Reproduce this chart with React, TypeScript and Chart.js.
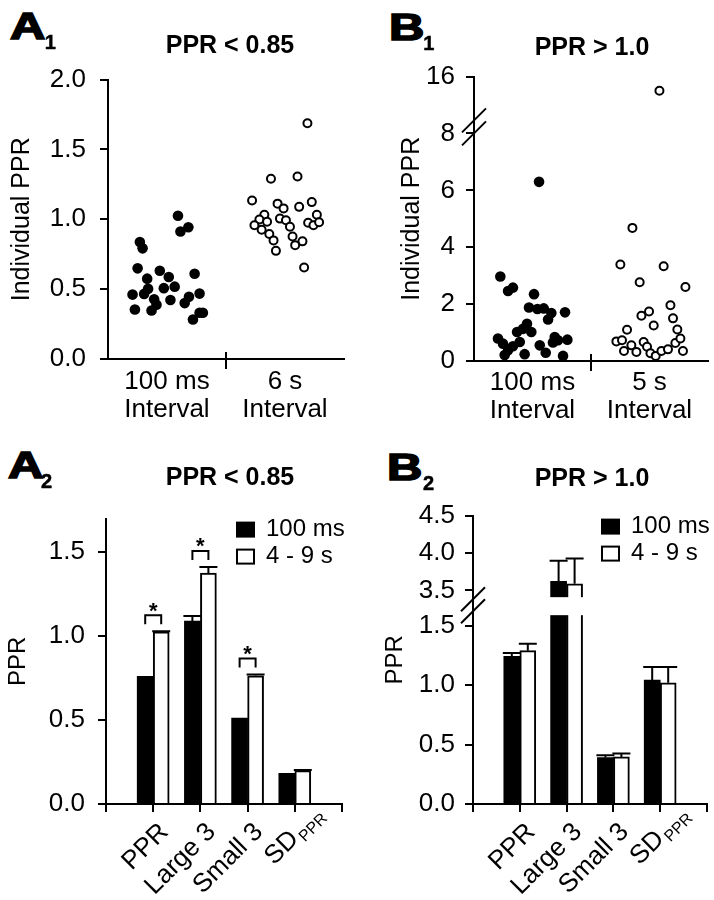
import React, { useEffect, useRef } from 'react';
import { Chart, registerables } from 'chart.js';

Chart.register(...registerables);

const FONT = "'Liberation Sans', Arial, Helvetica, sans-serif";

// ---------- Panel A1 (PPR < 0.85, individual PPR) ----------
const a1FastX = [0.593, 0.614, 0.681, 0.270, 0.293, 0.251, 0.439, 0.515, 0.332, 0.734, 0.340, 0.473, 0.565, 0.306, 0.208, 0.391, 0.529, 0.686, 0.776, 0.650, 0.411, 0.228, 0.369, 0.720, 0.776, 0.804];
const a1FastY = [1.025, 0.913, 0.943, 0.838, 0.792, 0.649, 0.632, 0.587, 0.575, 0.61, 0.502, 0.507, 0.518, 0.466, 0.461, 0.427, 0.422, 0.445, 0.468, 0.40, 0.388, 0.354, 0.347, 0.283, 0.331, 0.331];
const a1SlowX = [1.381, 1.606, 1.221, 1.437, 1.488, 1.620, 1.727, 1.770, 1.325, 1.283, 1.348, 1.457, 1.508, 1.542, 1.241, 1.302, 1.367, 1.403, 1.564, 1.648, 1.586, 1.423, 1.662, 1.696, 1.741, 1.789, 1.690];
const a1SlowY = [1.29, 1.306, 1.135, 1.112, 1.078, 1.089, 1.123, 1.032, 1.032, 0.998, 0.982, 1.005, 0.993, 0.947, 0.957, 0.925, 0.895, 0.849, 0.877, 0.842, 0.815, 0.774, 0.655, 0.975, 0.957, 0.979, 1.687];
const a1Categories = [['100 ms', 'Interval'], ['6 s', 'Interval']];
const a1YTicks = [0, 0.5, 1.0, 1.5, 2.0];

// ---------- Panel B1 (PPR > 1.0, individual PPR) ----------
const b1FastX = [0.556, 0.225, 0.291, 0.333, 0.513, 0.470, 0.542, 0.596, 0.661, 0.633, 0.778, 0.453, 0.419, 0.368, 0.49, 0.205, 0.248, 0.391, 0.333, 0.690, 0.718, 0.675, 0.798, 0.562, 0.291, 0.262, 0.433, 0.613, 0.761];
const b1FastY = [6.30, 2.97, 2.46, 2.58, 2.35, 1.88, 1.83, 1.85, 1.69, 1.46, 1.71, 1.31, 1.13, 1.02, 1.02, 0.79, 0.61, 0.67, 0.52, 0.84, 0.73, 0.65, 0.75, 0.55, 0.38, 0.21, 0.24, 0.29, 0.18];
const b1SlowX = [1.585, 1.354, 1.251, 1.621, 1.416, 1.807, 1.431, 1.496, 1.679, 1.701, 1.536, 1.308, 1.738, 1.217, 1.265, 1.345, 1.282, 1.388, 1.450, 1.479, 1.508, 1.553, 1.602, 1.658, 1.721, 1.764, 1.786];
const b1SlowY = [14.0, 4.68, 3.39, 3.33, 2.77, 2.60, 1.59, 1.74, 1.96, 1.50, 1.25, 1.10, 1.11, 0.69, 0.73, 0.55, 0.35, 0.32, 0.67, 0.50, 0.27, 0.18, 0.35, 0.41, 0.63, 0.79, 0.35];
const b1Categories = [['100 ms', 'Interval'], ['5 s', 'Interval']];
const b1YTicks = [0, 2, 4, 6, 8, 16];

// ---------- Bar panels ----------
const barCategories = ['PPR', 'Large 3', 'Small 3', 'SD'];
const barCategorySubs = ['', '', '', 'PPR'];
const seriesLabels = ['100 ms', '4 - 9 s'];

// A2 (PPR < 0.85)
const a2Fast = [0.76, 1.09, 0.512, 0.183];
const a2FastErr = [0, 0.03, 0, 0];
const a2Slow = [1.025, 1.375, 0.764, 0.199];
const a2SlowErr = [0.004, 0.037, 0.008, 0.004];
const a2Significant = [true, true, true, false];
const a2YTicks = [0, 0.5, 1.0, 1.5];
const a2YMax = 1.7;

// B2 (PPR > 1.0)
const b2Fast = [1.244, 3.62, 0.392, 1.044];
const b2FastErr = [0.028, 0.277, 0.019, 0.111];
const b2Slow = [1.292, 3.587, 0.397, 1.022];
const b2SlowErr = [0.058, 0.34, 0.028, 0.133];
const b2Significant = [false, false, false, false];
const b2YTicks = [0, 0.5, 1.0, 1.5, 3.5, 4.0, 4.5];

// broken-axis transforms
const identity = (v: number) => v;
const b1Map = (v: number) => (v <= 8 ? v : 8 + (v - 8) / 4);
const b2Map = (v: number) => (v <= 1.5 ? v : v >= 3.5 ? 1.8 + (v - 3.5) * 0.63 : 1.5 + (v - 1.5) * 0.15);

function drawBreak(ctx: CanvasRenderingContext2D, x: number, yc: number, gap: number) {
  ctx.save();
  ctx.strokeStyle = '#000';
  ctx.lineWidth = 2;
  for (const s of [-gap / 2, gap / 2]) {
    ctx.beginPath();
    ctx.moveTo(x - 12, yc + s + 12);
    ctx.lineTo(x + 12, yc + s - 12);
    ctx.stroke();
  }
  ctx.restore();
}

type ScatterSpec = {
  fastX: number[]; fastY: number[]; slowX: number[]; slowY: number[];
  map: (v: number) => number; yTicks: number[]; fmt: (v: number) => string;
  cats: string[][]; yTitle: string; titlePad: number; yWidth: number; xHeight: number;
  padTop: number; padRight: number; tickPad: number; labelPad: number;
  brk?: { at: number; offset: number; gap: number };
};

function scatterConfig(s: ScatterSpec): any {
  const yMax = s.map(s.yTicks[s.yTicks.length - 1]);
  const extras = {
    id: 'scatterExtras',
    afterDraw(chart: any) {
      const { ctx, chartArea: ca } = chart;
      const xs = chart.scales.x;
      const ys = chart.scales.y;
      ctx.save();
      ctx.strokeStyle = '#000';
      ctx.lineWidth = 2;
      const px = Math.round(xs.getPixelForValue(1));
      ctx.beginPath();
      ctx.moveTo(px, ca.bottom - 7);
      ctx.lineTo(px, ca.bottom + 10);
      ctx.stroke();
      ctx.restore();
      if (s.brk) drawBreak(ctx, ca.left, ys.getPixelForValue(s.map(s.brk.at)) + s.brk.offset, s.brk.gap);
    },
  };
  return {
    type: 'scatter',
    data: {
      datasets: [
        { label: '100 ms', data: s.fastX.map((x, i) => ({ x, y: s.map(s.fastY[i]) })), pointRadius: 5.3, pointBackgroundColor: '#000', pointBorderColor: '#000', pointBorderWidth: 0 },
        { label: 'long', data: s.slowX.map((x, i) => ({ x, y: s.map(s.slowY[i]) })), pointRadius: 4, pointBackgroundColor: '#fff', pointBorderColor: '#000', pointBorderWidth: 2 },
      ],
    },
    options: {
      responsive: false,
      animation: false,
      events: [],
      clip: false,
      layout: { padding: { top: s.padTop, right: s.padRight, left: 0, bottom: 0 } },
      plugins: { legend: { display: false }, tooltip: { enabled: false } },
      scales: {
        x: {
          type: 'linear', min: 0, max: 2,
          afterBuildTicks: (sc: any) => { sc.ticks = [0.5, 1.5].map((v) => ({ value: v })); },
          ticks: { callback: (_v: any, i: number) => s.cats[i], autoSkip: false, maxRotation: 0, minRotation: 0, padding: s.labelPad, color: '#000', font: { family: FONT, size: 26, lineHeight: 1.05 } },
          grid: { drawOnChartArea: false, drawTicks: false },
          border: { display: true, color: '#000', width: 2 },
          afterFit: (sc: any) => { sc.height = s.xHeight; },
        },
        y: {
          type: 'linear', min: 0, max: yMax,
          afterBuildTicks: (sc: any) => { sc.ticks = s.yTicks.map((v) => ({ value: s.map(v) })); },
          ticks: { callback: (_v: any, i: number) => s.fmt(s.yTicks[i]), autoSkip: false, padding: s.tickPad, color: '#000', font: { family: FONT, size: 26 } },
          grid: { drawOnChartArea: false, drawTicks: true, tickLength: 8, color: '#000', lineWidth: 2 },
          border: { display: true, color: '#000', width: 2 },
          title: { display: true, text: s.yTitle, color: '#000', font: { family: FONT, size: 25, lineHeight: 1 }, padding: { top: s.titlePad, bottom: 0 } },
          afterFit: (sc: any) => { sc.width = s.yWidth; },
        },
      },
    },
    plugins: [extras],
  };
}

type BarSpec = {
  fast: number[]; fastErr: number[]; slow: number[]; slowErr: number[]; sig: boolean[];
  map: (v: number) => number; yTicks: number[]; yMax: number; yTitle: string; titlePad: number;
  yWidth: number; xHeight: number; padTop: number; padRight: number; tickPad: number;
  brk?: [number, number];
};

function barConfig(s: BarSpec): any {
  const labels = ['', ...barCategories, ''];
  const pad = (arr: number[]) => [null, ...arr.map(s.map), null];
  const series = [
    { vals: s.fast, errs: s.fastErr },
    { vals: s.slow, errs: s.slowErr },
  ];
  const breakCenter = (ys: any) => s.brk ? (ys.getPixelForValue(s.map(s.brk[0])) + ys.getPixelForValue(s.map(s.brk[1]))) / 2 - 3 : 0;
  const extras = {
    id: 'barExtras',
    afterDatasetsDraw(chart: any) {
      const { ctx, chartArea: ca } = chart;
      const ys = chart.scales.y;
      ctx.save();
      if (s.brk) {
        const yc = breakCenter(ys);
        ctx.fillStyle = '#fff';
        ctx.fillRect(ca.left + 2, yc - 8, ca.right - ca.left - 2, 18);
      }
      ctx.strokeStyle = '#000';
      ctx.lineWidth = 2;
      series.forEach((ser, di) => {
        const meta = chart.getDatasetMeta(di);
        ser.vals.forEach((v, i) => {
          const e = ser.errs[i];
          if (!e) return;
          const bar = meta.data[i + 1];
          const yTop = ys.getPixelForValue(s.map(v + e));
          ctx.beginPath();
          ctx.moveTo(bar.x, bar.y);
          ctx.lineTo(bar.x, yTop);
          ctx.moveTo(bar.x - 9, yTop);
          ctx.lineTo(bar.x + 9, yTop);
          ctx.stroke();
        });
      });
      // significance brackets
      const m0 = chart.getDatasetMeta(0);
      const m1 = chart.getDatasetMeta(1);
      s.sig.forEach((sg, i) => {
        if (!sg) return;
        const xa = m0.data[i + 1].x;
        const xb = m1.data[i + 1].x;
        const topVal = Math.max(s.fast[i] + s.fastErr[i], s.slow[i] + s.slowErr[i]);
        const legs = ys.getPixelForValue(s.map(topVal)) - 7;
        const top = legs - 9;
        ctx.beginPath();
        ctx.moveTo(xa, legs);
        ctx.lineTo(xa, top);
        ctx.lineTo(xb, top);
        ctx.lineTo(xb, legs);
        ctx.stroke();
        ctx.fillStyle = '#000';
        ctx.font = `bold 22px ${FONT}`;
        ctx.textAlign = 'center';
        ctx.textBaseline = 'middle';
        ctx.fillText('*', (xa + xb) / 2, top - 8.5 + 0.22 * 22);
      });
      ctx.restore();
    },
    afterDraw(chart: any) {
      const { ctx, chartArea: ca } = chart;
      const xs = chart.scales.x;
      const ys = chart.scales.y;
      ctx.save();
      // legend
      const lx = ca.right - 106;
      const tx = ca.right - 76;
      chart.data.datasets.forEach((ds: any, k: number) => {
        const cy = ca.top + 11 + k * 27;
        if (k === 0) {
          ctx.fillStyle = '#000';
          ctx.fillRect(lx, cy - 8, 19, 16);
        } else {
          ctx.fillStyle = '#fff';
          ctx.fillRect(lx, cy - 8, 19, 16);
          ctx.strokeStyle = '#000';
          ctx.lineWidth = 2;
          ctx.strokeRect(lx + 1, cy - 7, 17, 14);
        }
        ctx.fillStyle = '#000';
        ctx.font = `24px ${FONT}`;
        ctx.textAlign = 'left';
        ctx.textBaseline = 'middle';
        ctx.fillText(ds.label, tx, cy);
      });
      // rotated category labels
      barCategories.forEach((c, i) => {
        const x = xs.getPixelForValue(i + 1);
        ctx.save();
        ctx.translate(x, ca.bottom);
        ctx.rotate(-Math.PI / 4);
        ctx.fillStyle = '#000';
        ctx.font = `26px ${FONT}`;
        ctx.textAlign = 'right';
        ctx.textBaseline = 'middle';
        const sub = barCategorySubs[i];
        if (!sub) {
          ctx.fillText(c, -9, 25);
        } else {
          ctx.fillText(c, -22, 22);
          ctx.font = `16px ${FONT}`;
          ctx.textAlign = 'left';
          ctx.fillText(sub, -20, 30);
        }
        ctx.restore();
      });
      ctx.restore();
      if (s.brk) drawBreak(ctx, ca.left, breakCenter(ys), 12);
    },
  };
  return {
    type: 'bar',
    data: {
      labels,
      datasets: [
        { label: seriesLabels[0], data: pad(s.fast), backgroundColor: '#000', borderColor: '#000', borderWidth: 0, barThickness: 16 },
        { label: seriesLabels[1], data: pad(s.slow), backgroundColor: '#fff', borderColor: '#000', borderWidth: 2, barThickness: 16 },
      ],
    },
    options: {
      responsive: false,
      animation: false,
      events: [],
      layout: { padding: { top: s.padTop, right: s.padRight, left: 0, bottom: 0 } },
      plugins: { legend: { display: false }, tooltip: { enabled: false } },
      scales: {
        x: {
          type: 'category', offset: false,
          grid: { offset: false, drawOnChartArea: false, drawTicks: true, tickLength: 8, color: '#000', lineWidth: 2 },
          ticks: { display: false, autoSkip: false },
          border: { display: true, color: '#000', width: 2 },
          afterFit: (sc: any) => { sc.height = s.xHeight; },
        },
        y: {
          type: 'linear', min: 0, max: s.map(s.yMax),
          afterBuildTicks: (sc: any) => { sc.ticks = s.yTicks.map((v) => ({ value: s.map(v) })); },
          ticks: { callback: (_v: any, i: number) => s.yTicks[i].toFixed(1), autoSkip: false, padding: s.tickPad, color: '#000', font: { family: FONT, size: 26 } },
          grid: { drawOnChartArea: false, drawTicks: true, tickLength: 8, color: '#000', lineWidth: 2 },
          border: { display: true, color: '#000', width: 2 },
          title: { display: true, text: s.yTitle, color: '#000', font: { family: FONT, size: 24, lineHeight: 1 }, padding: { top: s.titlePad, bottom: 0 } },
          afterFit: (sc: any) => { sc.width = s.yWidth; },
        },
      },
    },
    plugins: [extras],
  };
}

function ChartBox({ left, top, width, height, make }: { left: number; top: number; width: number; height: number; make: () => any }) {
  const ref = useRef<HTMLCanvasElement>(null);
  useEffect(() => {
    const chart = new Chart(ref.current as HTMLCanvasElement, make());
    return () => chart.destroy();
  }, []);
  return (
    <div style={{ position: 'absolute', left, top, width, height }}>
      <canvas ref={ref} width={width} height={height} style={{ width, height, display: 'block' }} />
    </div>
  );
}

function Letter({ ch, sub, x, y, sx, sy }: { ch: string; sub: string; x: number; y: number; sx: number; sy: number }) {
  return (
    <>
      <div style={{ position: 'absolute', left: x, top: y, fontSize: 37, fontWeight: 700, lineHeight: '37px', transform: 'scaleX(1.32)', transformOrigin: '0 0', WebkitTextStroke: '1.6px #000', whiteSpace: 'nowrap' }}>{ch}</div>
      <div style={{ position: 'absolute', left: sx, top: sy, fontSize: 20, fontWeight: 700, lineHeight: '20px', WebkitTextStroke: '0.5px #000' }}>{sub}</div>
    </>
  );
}

function Title({ text, cx, top }: { text: string; cx: number; top: number }) {
  return (
    <div style={{ position: 'absolute', left: cx, top, transform: 'translateX(-50%)', fontSize: 25, fontWeight: 700, lineHeight: '25px', whiteSpace: 'nowrap' }}>{text}</div>
  );
}

export default function App() {
  return (
    <div style={{ position: 'absolute', left: 0, top: 0, width: 714, height: 900, background: '#fff', color: '#000', fontFamily: FONT, overflow: 'hidden' }}>
      <ChartBox left={0} top={50} width={357} height={390} make={() => scatterConfig({
        fastX: a1FastX, fastY: a1FastY, slowX: a1SlowX, slowY: a1SlowY, map: identity, yTicks: a1YTicks,
        fmt: (v) => v.toFixed(1), cats: a1Categories, yTitle: 'Individual PPR', titlePad: 9.5,
        yWidth: 108, xHeight: 81, padTop: 17, padRight: 13, tickPad: 14, labelPad: 9.5,
      })} />
      <ChartBox left={357} top={50} width={357} height={390} make={() => scatterConfig({
        fastX: b1FastX, fastY: b1FastY, slowX: b1SlowX, slowY: b1SlowY, map: b1Map, yTicks: b1YTicks,
        fmt: (v) => String(v), cats: b1Categories, yTitle: 'Individual PPR', titlePad: 42.5,
        yWidth: 117, xHeight: 79, padTop: 20, padRight: 6, tickPad: 11, labelPad: 8.5,
        brk: { at: 8, offset: -6.6, gap: 13 },
      })} />
      <ChartBox left={0} top={490} width={357} height={410} make={() => barConfig({
        fast: a2Fast, fastErr: a2FastErr, slow: a2Slow, slowErr: a2SlowErr, sig: a2Significant,
        map: identity, yTicks: a2YTicks, yMax: a2YMax, yTitle: 'PPR', titlePad: 6,
        yWidth: 106, xHeight: 96, padTop: 21, padRight: 15, tickPad: 13,
      })} />
      <ChartBox left={357} top={490} width={357} height={410} make={() => barConfig({
        fast: b2Fast, fastErr: b2FastErr, slow: b2Slow, slowErr: b2SlowErr, sig: b2Significant,
        map: b2Map, yTicks: b2YTicks, yMax: 4.5, yTitle: 'PPR', titlePad: 26,
        yWidth: 116, xHeight: 96, padTop: 21, padRight: 7, tickPad: 10, brk: [1.5, 3.5],
      })} />

      <Letter ch="A" sub="1" x={10} y={8.2} sx={44.7} sy={31.9} />
      <Letter ch="B" sub="1" x={388.5} y={8.6} sx={423.3} sy={32.7} />
      <Letter ch="A" sub="2" x={8} y={447} sx={41} sy={471} />
      <Letter ch="B" sub="2" x={386.8} y={448.6} sx={423} sy={472.7} />

      <Title text="PPR < 0.85" cx={230} top={32} />
      <Title text="PPR > 1.0" cx={592} top={33.6} />
      <Title text="PPR < 0.85" cx={230} top={463.6} />
      <Title text="PPR > 1.0" cx={592} top={464.8} />
    </div>
  );
}
